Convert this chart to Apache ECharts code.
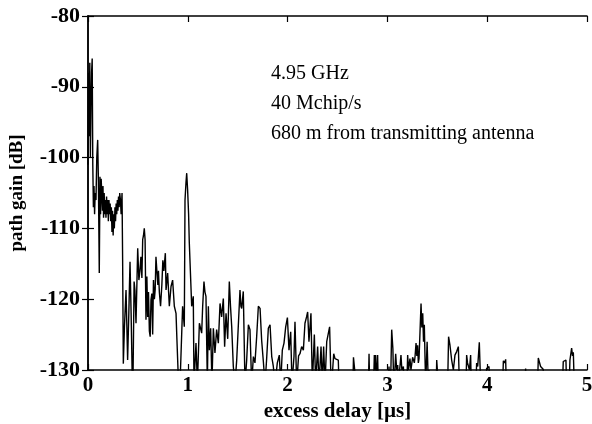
<!DOCTYPE html>
<html>
<head>
<meta charset="utf-8">
<script src="https://cdn.jsdelivr.net/npm/echarts@6/dist/echarts.min.js"></script>
<style>html,body{margin:0;padding:0;background:#fff}#c{width:592px;height:424px}</style>
</head>
<body>
<div id="c"></div>
<script>
// excess delay [µs]
const delay = [
0.000,0.006,0.012,0.018,0.024,0.030,0.036,0.042,0.048,0.054,0.060,0.066,0.072,0.080,0.088,0.097,0.104,0.113,0.120,0.126,
0.132,0.138,0.145,0.150,0.156,0.162,0.168,0.174,0.180,0.186,0.192,0.198,0.204,0.210,0.216,0.222,0.228,0.234,0.240,0.246,
0.252,0.258,0.264,0.270,0.276,0.282,0.288,0.294,0.300,0.306,0.312,0.318,0.325,0.332,0.341,0.347,0.354,0.365,0.381,0.397,
0.409,0.421,0.432,0.448,0.462,0.470,0.481,0.498,0.510,0.520,0.530,0.540,0.548,0.556,0.564,0.572,0.581,0.590,0.598,0.606,
0.615,0.623,0.631,0.640,0.648,0.656,0.665,0.673,0.681,0.690,0.700,0.706,0.715,0.727,0.740,0.750,0.760,0.775,0.782,0.798,
0.815,0.832,0.848,0.865,0.882,0.890,0.915,0.948,0.965,0.972,0.982,0.989,0.998,1.008,1.015,
1.022,1.039,1.055,1.062,1.082,1.096,1.116,1.139,1.149,1.162,1.172,1.182,1.196,1.206,1.216,1.229,1.242,1.256,1.272,1.289,
1.306,1.323,1.339,1.356,1.369,1.383,1.400,1.416,1.428,1.440,1.456,1.473,1.490,1.523,1.532,1.540,1.556,1.573,1.590,1.607,
1.623,1.640,1.657,1.673,1.690,1.707,1.724,1.740,1.757,1.774,1.790,1.807,1.824,1.841,1.857,1.874,1.897,1.917,1.931,1.947,
1.964,1.981,1.998,2.014,2.031,2.044,2.064,2.074,2.091,2.110,2.124,2.141,2.158,2.174,2.190,2.201,2.214,2.224,2.234,2.248,
2.268,2.281,2.301,2.315,2.335,2.348,2.361,2.375,2.392,2.408,2.421,2.432,2.442,2.462,2.475,2.492,2.508,2.515,
2.655,2.660,2.672,2.680,2.686,
2.810,2.816,2.822,
2.862,2.869,2.875,2.882,2.888,2.898,2.902,2.908,
3.010,3.016,3.022,3.035,3.043,3.055,3.063,3.075,3.083,3.093,3.103,3.110,3.130,3.136,3.145,3.160,3.168,3.195,3.203,3.212,
3.226,3.236,3.243,3.253,3.260,3.270,3.277,3.287,3.295,3.303,3.310,3.317,3.337,3.345,3.354,3.362,3.370,3.378,3.384,3.398,
3.404,3.410,3.417,3.425,
3.490,3.494,3.504,3.510,
3.604,3.613,3.627,3.644,3.661,3.677,3.694,3.711,3.721,
3.788,3.794,3.803,3.811,3.822,3.834,3.840,
3.888,3.894,3.905,3.921,3.934,
3.990,3.994,4.018,4.024,
4.155,4.162,4.175,4.185,4.191,
4.380,4.385,4.391,
4.505,4.512,4.535,4.561,4.568,
4.755,4.762,4.775,4.789,4.795,
4.822,4.829,4.846,4.855,4.863,4.872,
5.000
];
// path gain [dB]
const gain = [
-101,-88,-97,-86.6,-100,-93,-88,-86,-101,-107,-104,-108,-105,-106,-100,-97.5,-103,-116.3,-102.7,-108,
-103,-105,-107.5,-104,-108.5,-105,-108,-106,-108.5,-105.5,-108,-106,-109,-106,-108,-106.5,-109,-107,-110.5,-107.5,
-111,-108,-110,-107,-109,-106.5,-108,-106,-107.5,-105.5,-107,-105,-106,-108,-105,-114.5,-129.1,-124,-118.7,-128.6,
-122,-114.7,-122,-135,-117.5,-118.7,-123.4,-112.8,-117.3,-116,-114,-117,-111.6,-111,-110,-111.6,-122.9,-116.8,-122.5,-119,
-124.5,-125.3,-120.1,-119.2,-125,-117.3,-120,-118.7,-114,-116,-118,-116,-119,-121,-118,-114.5,-116,-113.5,-118.7,-116.3,
-121,-118.2,-117.3,-121,-122,-125.3,-135,-121,-123.9,-106,-103.5,-102.2,-104.5,-108,-112,
-112.1,-121,-119.6,-132,-126.2,-132,-123.4,-124.8,-121,-117.5,-119,-119.6,-132,-121,-127.2,-124.1,-132,-124.1,-127.6,-124.3,
-126.2,-120.6,-122.5,-119.9,-126.7,-122,-125.6,-117.5,-121,-123.9,-129.5,-132,-128.6,-118.7,-121,-121.3,-118.9,-132,-128.6,-123.6,
-124.3,-132,-128.1,-129,-125.3,-121,-121.3,-125.8,-128.8,-132,-128.4,-124.1,-123.6,-128.1,-129.5,-132,-129,-127.9,-132,-127.2,
-126.2,-123.9,-122.6,-127.2,-124.6,-132,-128.1,-123.2,-132,-128,-127.7,-126.7,-127.2,-123.4,-122.5,-121.8,-126,-124,-122,-132,
-125,-132,-126.7,-132,-126.7,-132,-126.7,-132,-126,-126,-123.9,-130,-132,-127.7,-128.4,-128.6,-128.6,-132,
-132,-128.2,-128.2,-128.0,-132,
-132,-127.7,-132,
-132,-127.9,-130,-127.9,-132,-132,-127.9,-132,
-132,-129.5,-132,-130,-124.3,-127,-132,-130,-127.7,-130,-129.3,-132,-132,-127.9,-130,-129.5,-132,-132,-127.9,-130,
-128.4,-130,-129.8,-128.2,-128.1,-129,-128.1,-126.2,-128,-126.5,-129,-128.4,-120.6,-124,-122.0,-126,-123.6,-129,-132,-126,
-126,-132,-130,-132,
-132,-128.6,-128.4,-132,
-132,-125.3,-126.5,-128.6,-130,-127.9,-127.4,-126.7,-132,
-132,-127.9,-129,-128.8,-130,-127.9,-132,
-132,-129,-129.5,-126.1,-132,
-132,-129.8,-129.5,-132,
-132,-128.7,-129,-128.5,-132,
-132,-129.8,-132,
-132,-128.3,-129.5,-129.9,-132,
-132,-128.8,-129,-128.6,-132,
-132,-128.6,-126.9,-128,-127.5,-132,
-132
];
const xTicks = [0, 1, 2, 3, 4, 5];
const yTicks = [-130, -120, -110, -100, -90, -80];
const notes = ['4.95 GHz', '40 Mchip/s', '680 m from transmitting antenna'];

const points = delay.map((d, i) => [d, gain[i]]);
const serif = '"Liberation Serif", "DejaVu Serif", serif';

const chart = echarts.init(document.getElementById('c'), null, {renderer: 'canvas'});
const baseAxis = {
  axisLine: {show: true, lineStyle: {color: '#000', width: 1.5}},
  axisTick: {show: true, inside: true, length: 6, lineStyle: {color: '#000', width: 1.2}},
  splitLine: {show: false}
};
chart.setOption({
  animation: false,
  backgroundColor: '#fff',
  grid: {left: 88, right: 5, top: 16, bottom: 54, containLabel: false, outerBoundsMode: 'none'},
  xAxis: [
    Object.assign({}, baseAxis, {
      type: 'value', min: xTicks[0], max: xTicks[xTicks.length - 1], interval: 1,
      position: 'bottom',
      name: 'excess delay [µs]', nameLocation: 'middle', nameGap: 27,
      nameTextStyle: {fontFamily: serif, fontWeight: 'bold', fontSize: 21, color: '#000'},
      axisLabel: {fontFamily: serif, fontWeight: 'bold', fontSize: 21, color: '#000', margin: 5}
    }),
    Object.assign({}, baseAxis, {
      type: 'value', min: xTicks[0], max: xTicks[xTicks.length - 1], interval: 1,
      position: 'top', axisLabel: {show: false}
    })
  ],
  yAxis: [
    Object.assign({}, baseAxis, {
      type: 'value', min: yTicks[0], max: yTicks[yTicks.length - 1], interval: 10,
      position: 'left',
      name: 'path gain [dB]', nameLocation: 'middle', nameGap: 61,
      nameTextStyle: {fontFamily: serif, fontWeight: 'bold', fontSize: 19, color: '#000'},
      axisLabel: {fontFamily: serif, fontWeight: 'bold', fontSize: 22, color: '#000', margin: 8}
    }),
    Object.assign({}, baseAxis, {
      type: 'value', min: yTicks[0], max: yTicks[yTicks.length - 1], interval: 10,
      position: 'right', axisLabel: {show: false}
    })
  ],
  series: [{
    type: 'line',
    data: points,
    showSymbol: false,
    clip: true,
    sampling: null,
    lineStyle: {color: '#000', width: 1.4},
    silent: true
  }],
  graphic: notes.map((t, i) => ({
    type: 'text',
    left: 271,
    top: 64 + i * 30,
    style: {text: t, fontFamily: serif, fontSize: 20, fill: '#000'}
  }))
});
</script>
</body>
</html>
